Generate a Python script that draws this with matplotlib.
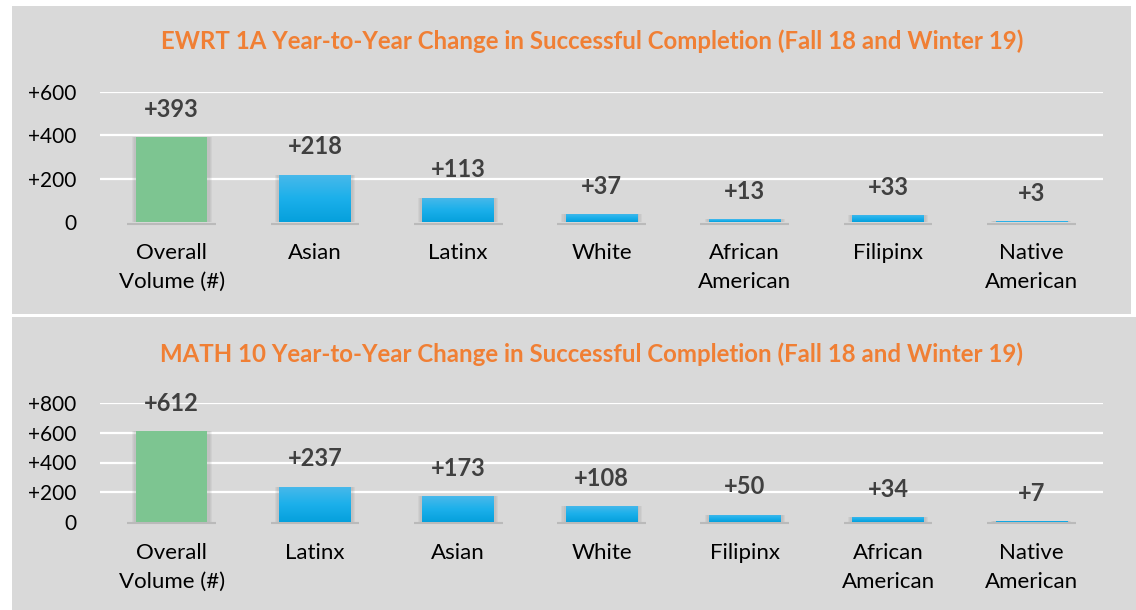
import matplotlib.pyplot as plt
import numpy as np
from matplotlib.patches import Rectangle
from matplotlib.colors import LinearSegmentedColormap

plt.rcParams['font.family'] = ['Lato', 'DejaVu Sans']

# Datos
cats_ewrt = ["Overall\nVolume (#)", "Asian", "Latinx", "White", "African\nAmerican", "Filipinx", "Native\nAmerican"]
vals_ewrt = [393, 218, 113, 37, 13, 33, 3]

cats_math = ["Overall\nVolume (#)", "Latinx", "Asian", "White", "Filipinx", "African\nAmerican", "Native\nAmerican"]
vals_math = [612, 237, 173, 108, 50, 34, 7]

ticks_ewrt = [0, 200, 400, 600]
ticks_math = [0, 200, 400, 600, 800]

title_ewrt = "EWRT 1A Year-to-Year Change in Successful Completion (Fall 18 and Winter 19)"
title_math = "MATH 10 Year-to-Year Change in Successful Completion (Fall 18 and Winter 19)"

GRIS = "#D9D9D9"
VERDE = "#7DC591"
NARANJA = "#F07F34"
TEXTO = "#404040"

W, H = 1136, 610
fig = plt.figure(figsize=(W / 100, H / 100), dpi=100, facecolor="white")

# Paneles grises de fondo (coordenadas en px)
for (x0, y0, x1, y1) in [(12, 6, 1131, 314), (12, 317, 1136, 610)]:
    fig.patches.append(Rectangle((x0 / W, 1 - y1 / H), (x1 - x0) / W, (y1 - y0) / H,
                                 transform=fig.transFigure, facecolor=GRIS,
                                 edgecolor="none", zorder=-5))

grad = np.linspace(0, 1, 256).reshape(-1, 1)
cmap_azul = LinearSegmentedColormap.from_list("azul", ["#05A0DC", "#1CB0EB", "#4AB9EA"])


def dibujar(ax, cats, vals, ticks, titulo, y_titulo):
    ax.set_facecolor("none")
    x = np.arange(len(cats))
    ax.set_yticks(ticks)
    ax.set_yticklabels(["0" if t == 0 else f"+{t}" for t in ticks], fontsize=15, color="black")
    ax.set_xticks(x)
    ax.set_xticklabels(cats, fontsize=16, color="black", linespacing=1.55)
    ax.tick_params(axis="y", length=0, pad=17)
    ax.tick_params(axis="x", length=0, pad=15)
    for s in ax.spines.values():
        s.set_visible(False)
    for t in ticks[1:]:
        ax.axhline(t, color="white", lw=1.6, zorder=1)

    for i, v in enumerate(vals):
        # sombra difusa
        for wd in [0.56, 0.545, 0.53]:
            ax.bar(i, v, width=wd, color="#7F7F7F", alpha=0.09, zorder=2, clip_on=False)
        ax.plot([i - 0.31, i + 0.31], [-ticks[-1] * 0.012] * 2, color="#A6A6A6", lw=1.5,
                alpha=0.6, zorder=2, clip_on=False, solid_capstyle="butt")
        if i == 0:
            ax.bar(i, v, width=0.5, color=VERDE, zorder=3)
        else:
            b = ax.bar(i, v, width=0.5, color="none", zorder=3)[0]
            im = ax.imshow(grad, cmap=cmap_azul, extent=(i - 0.25, i + 0.25, 0, max(v, 0.5)),
                           aspect="auto", origin="lower", zorder=3)
            im.set_clip_path(b)
        ax.annotate(f"+{v}", (i, v), xytext=(0, 20), textcoords="offset points",
                    ha="center", va="center", fontsize=17, fontweight="bold", color=TEXTO)
    ax.set_xlim(-0.5, len(cats) - 0.5)
    ax.set_ylim(0, ticks[-1])
    fig.text(592 / W, 1 - y_titulo / H, titulo, ha="center", va="center",
             fontsize=17.3, fontweight="bold", color=NARANJA)


ax1 = fig.add_axes([100 / W, 1 - 222 / H, 1003 / W, 130 / H])
ax2 = fig.add_axes([100 / W, 1 - 522 / H, 1003 / W, 119 / H])

dibujar(ax1, cats_ewrt, vals_ewrt, ticks_ewrt, title_ewrt, 41)
dibujar(ax2, cats_math, vals_math, ticks_math, title_math, 354)

fig.savefig("out.png", dpi=100, facecolor="white")
